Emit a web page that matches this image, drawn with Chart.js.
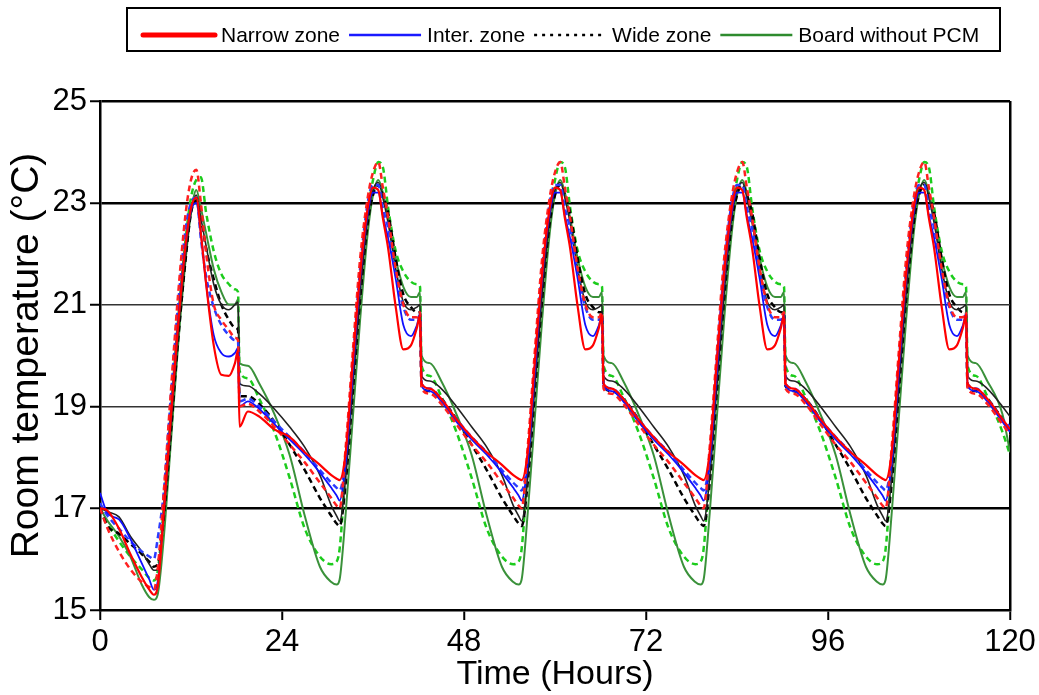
<!DOCTYPE html>
<html><head><meta charset="utf-8">
<script src="https://cdn.jsdelivr.net/npm/chart.js@4.4.1/dist/chart.umd.min.js"></script>
<style>html,body{margin:0;padding:0;background:#fff}#wrap{width:1039px;height:695px;position:relative}</style>
</head><body><div id="wrap"><canvas id="c"></canvas></div>
<script>
// ---------- data ----------
const hours = [
0, 1, 2.5, 4, 5.5, 6.5, 7.1, 7.6, 8.4, 9.3, 10.3, 11.3, 12, 12.7, 13.3, 14, 15, 16, 17, 17.8, 18.2, 18.4, 19.5, 21, 23,
25, 27, 29, 30.5, 31.2, 31.6, 32.4, 33.3, 34.3, 35.3, 36, 36.7, 37.3, 38, 39, 40, 41, 41.8, 42.2, 42.4, 43.5, 45, 47,
49, 51, 53, 54.5, 55.2, 55.6, 56.4, 57.3, 58.3, 59.3, 60, 60.7, 61.3, 62, 63, 64, 65, 65.8, 66.2, 66.4, 67.5, 69, 71,
73, 75, 77, 78.5, 79.2, 79.6, 80.4, 81.3, 82.3, 83.3, 84, 84.7, 85.3, 86, 87, 88, 89, 89.8, 90.2, 90.4, 91.5, 93, 95,
97, 99, 101, 102.5, 103.2, 103.6, 104.4, 105.3, 106.3, 107.3, 108, 108.7, 109.3, 110, 111, 112, 113, 113.8, 114.2, 114.4, 115.5, 117, 119,
120];

const narrowSolid = [
17.0, 16.95, 16.6, 16.1, 15.65, 15.4, 15.3, 15.45, 16.9, 18.7, 20.6, 22.2, 22.9, 23.1, 22.4, 21.4, 20.2, 19.62, 19.6, 19.85, 20.1, 18.6, 18.9, 18.8, 18.55,
18.4, 18.1, 17.85, 17.65, 17.58, 17.55, 18.1, 19.8, 21.6, 22.9, 23.3, 23.25, 22.7, 22.1, 20.95, 20.12, 20.2, 20.55, 20.8, 19.45, 19.35, 19.15, 18.75,
18.4, 18.1, 17.85, 17.65, 17.58, 17.55, 18.1, 19.8, 21.6, 22.9, 23.3, 23.25, 22.7, 22.1, 20.95, 20.12, 20.2, 20.55, 20.8, 19.45, 19.35, 19.15, 18.75,
18.4, 18.1, 17.85, 17.65, 17.58, 17.55, 18.1, 19.8, 21.6, 22.9, 23.3, 23.25, 22.7, 22.1, 20.95, 20.12, 20.2, 20.55, 20.8, 19.45, 19.35, 19.15, 18.75,
18.4, 18.1, 17.85, 17.65, 17.58, 17.55, 18.1, 19.8, 21.6, 22.9, 23.3, 23.25, 22.7, 22.1, 20.95, 20.12, 20.2, 20.55, 20.8, 19.45, 19.35, 19.15, 18.75,
18.55];

const narrowDashed = [
17.0, 16.6, 16.15, 15.8, 15.55, 15.45, 15.4, 15.8, 17.3, 19.2, 21.2, 22.8, 23.45, 23.65, 23.0, 22.0, 21.0, 20.7, 20.5, 20.35, 20.3, 19.0, 19.05, 18.9, 18.6,
18.25, 17.9, 17.5, 17.2, 17.05, 17.0, 18.2, 20.0, 21.9, 23.1, 23.6, 23.8, 23.3, 22.7, 21.7, 21.0, 20.75, 20.75, 20.85, 19.35, 19.25, 19.05, 18.65,
18.25, 17.9, 17.5, 17.2, 17.05, 17.0, 18.2, 20.0, 21.9, 23.1, 23.6, 23.8, 23.3, 22.7, 21.7, 21.0, 20.75, 20.75, 20.85, 19.35, 19.25, 19.05, 18.65,
18.25, 17.9, 17.5, 17.2, 17.05, 17.0, 18.2, 20.0, 21.9, 23.1, 23.6, 23.8, 23.3, 22.7, 21.7, 21.0, 20.75, 20.75, 20.85, 19.35, 19.25, 19.05, 18.65,
18.25, 17.9, 17.5, 17.2, 17.05, 17.0, 18.2, 20.0, 21.9, 23.1, 23.6, 23.8, 23.3, 22.7, 21.7, 21.0, 20.75, 20.75, 20.85, 19.35, 19.25, 19.05, 18.65,
18.45];

const interSolid = [
17.3, 16.9, 16.78, 16.4, 15.92, 15.6, 15.4, 15.55, 16.95, 18.75, 20.7, 22.2, 22.85, 23.0, 22.4, 21.4, 20.4, 20.05, 19.98, 20.05, 20.15, 19.0, 19.1, 18.95, 18.65,
18.35, 18.05, 17.7, 17.4, 17.25, 17.15, 17.9, 19.6, 21.5, 22.8, 23.2, 23.2, 22.75, 22.3, 21.5, 20.6, 20.38, 20.6, 20.8, 19.4, 19.3, 19.1, 18.7,
18.35, 18.05, 17.7, 17.4, 17.25, 17.15, 17.9, 19.6, 21.5, 22.8, 23.2, 23.2, 22.75, 22.3, 21.5, 20.6, 20.38, 20.6, 20.8, 19.4, 19.3, 19.1, 18.7,
18.35, 18.05, 17.7, 17.4, 17.25, 17.15, 17.9, 19.6, 21.5, 22.8, 23.2, 23.2, 22.75, 22.3, 21.5, 20.6, 20.38, 20.6, 20.8, 19.4, 19.3, 19.1, 18.7,
18.35, 18.05, 17.7, 17.4, 17.25, 17.15, 17.9, 19.6, 21.5, 22.8, 23.2, 23.2, 22.75, 22.3, 21.5, 20.6, 20.38, 20.6, 20.8, 19.4, 19.3, 19.1, 18.7,
18.5];

const interDashed = [
17.1, 16.85, 16.6, 16.35, 16.15, 16.05, 16.0, 16.4, 17.3, 19.1, 21.0, 22.5, 23.0, 23.1, 22.3, 21.55, 20.95, 20.6, 20.4, 20.3, 20.27, 19.1, 19.15, 19.0, 18.7,
18.4, 18.1, 17.75, 17.5, 17.4, 17.35, 18.0, 19.8, 21.7, 23.0, 23.35, 23.35, 22.9, 22.5, 21.6, 20.95, 20.7, 20.7, 20.8, 19.45, 19.35, 19.15, 18.75,
18.4, 18.1, 17.75, 17.5, 17.4, 17.35, 18.0, 19.8, 21.7, 23.0, 23.35, 23.35, 22.9, 22.5, 21.6, 20.95, 20.7, 20.7, 20.8, 19.45, 19.35, 19.15, 18.75,
18.4, 18.1, 17.75, 17.5, 17.4, 17.35, 18.0, 19.8, 21.7, 23.0, 23.35, 23.35, 22.9, 22.5, 21.6, 20.95, 20.7, 20.7, 20.8, 19.45, 19.35, 19.15, 18.75,
18.4, 18.1, 17.75, 17.5, 17.4, 17.35, 18.0, 19.8, 21.7, 23.0, 23.35, 23.35, 22.9, 22.5, 21.6, 20.95, 20.7, 20.7, 20.8, 19.45, 19.35, 19.15, 18.75,
18.6];

const wideSolid = [
17.0, 16.93, 16.83, 16.45, 16.15, 15.9, 15.78, 15.8, 16.8, 18.5, 20.4, 22.0, 22.8, 23.15, 22.7, 22.15, 21.4, 21.0, 20.9, 21.0, 21.05, 19.45, 19.4, 19.25, 18.95,
18.6, 18.2, 17.65, 17.05, 16.85, 16.75, 17.6, 19.3, 21.2, 22.7, 23.25, 23.4, 23.1, 22.6, 21.7, 21.05, 20.9, 20.95, 21.0, 19.6, 19.5, 19.35, 19.0,
18.6, 18.2, 17.65, 17.05, 16.85, 16.75, 17.6, 19.3, 21.2, 22.7, 23.25, 23.4, 23.1, 22.6, 21.7, 21.05, 20.9, 20.95, 21.0, 19.6, 19.5, 19.35, 19.0,
18.6, 18.2, 17.65, 17.05, 16.85, 16.75, 17.6, 19.3, 21.2, 22.7, 23.25, 23.4, 23.1, 22.6, 21.7, 21.05, 20.9, 20.95, 21.0, 19.6, 19.5, 19.35, 19.0,
18.6, 18.2, 17.65, 17.05, 16.85, 16.75, 17.6, 19.3, 21.2, 22.7, 23.25, 23.4, 23.1, 22.6, 21.7, 21.05, 20.9, 20.95, 21.0, 19.6, 19.5, 19.35, 19.0,
18.8];

const wideDashed = [
17.0, 16.65, 16.5, 16.3, 16.1, 15.95, 15.85, 15.9, 16.8, 18.4, 20.3, 21.9, 22.8, 23.05, 22.7, 22.1, 21.5, 21.0, 20.7, 20.55, 20.5, 19.2, 19.2, 19.05, 18.7,
18.25, 17.75, 17.2, 16.85, 16.7, 16.65, 17.5, 19.2, 21.1, 22.6, 23.15, 23.35, 23.15, 22.8, 21.9, 21.2, 20.95, 20.85, 20.85, 19.4, 19.3, 19.15, 18.75,
18.25, 17.75, 17.2, 16.85, 16.7, 16.65, 17.5, 19.2, 21.1, 22.6, 23.15, 23.35, 23.15, 22.8, 21.9, 21.2, 20.95, 20.85, 20.85, 19.4, 19.3, 19.15, 18.75,
18.25, 17.75, 17.2, 16.85, 16.7, 16.65, 17.5, 19.2, 21.1, 22.6, 23.15, 23.35, 23.15, 22.8, 21.9, 21.2, 20.95, 20.85, 20.85, 19.4, 19.3, 19.15, 18.75,
18.25, 17.75, 17.2, 16.85, 16.7, 16.65, 17.5, 19.2, 21.1, 22.6, 23.15, 23.35, 23.15, 22.8, 21.9, 21.2, 20.95, 20.85, 20.85, 19.4, 19.3, 19.15, 18.75,
18.5];

const boardSolid = [
17.0, 16.75, 16.45, 16.05, 15.5, 15.25, 15.2, 15.3, 16.4, 18.2, 20.2, 21.9, 22.8, 23.25, 22.9, 22.4, 21.7, 21.25, 21.0, 21.0, 21.1, 19.85, 19.8, 19.45, 18.85,
18.05, 16.85, 15.85, 15.55, 15.5, 15.6, 16.9, 18.7, 20.7, 22.4, 23.15, 23.45, 23.2, 22.7, 21.9, 21.35, 21.15, 21.15, 21.25, 20.0, 19.85, 19.5, 18.85,
18.05, 16.85, 15.85, 15.55, 15.5, 15.6, 16.9, 18.7, 20.7, 22.4, 23.15, 23.45, 23.2, 22.7, 21.9, 21.35, 21.15, 21.15, 21.25, 20.0, 19.85, 19.5, 18.85,
18.05, 16.85, 15.85, 15.55, 15.5, 15.6, 16.9, 18.7, 20.7, 22.4, 23.15, 23.45, 23.2, 22.7, 21.9, 21.35, 21.15, 21.15, 21.25, 20.0, 19.85, 19.5, 18.85,
18.05, 16.85, 15.85, 15.55, 15.5, 15.6, 16.9, 18.7, 20.7, 22.4, 23.15, 23.45, 23.2, 22.7, 21.9, 21.35, 21.15, 21.15, 21.25, 20.0, 19.85, 19.5, 18.85,
18.1];

const boardDashed = [
17.0, 16.7, 16.35, 16.05, 15.8, 15.63, 15.58, 15.75, 17.0, 18.8, 20.7, 22.3, 23.1, 23.45, 23.5, 22.8, 22.05, 21.6, 21.4, 21.3, 21.25, 19.7, 19.55, 19.15, 18.5,
17.6, 16.6, 16.05, 15.9, 15.95, 16.2, 17.8, 19.5, 21.3, 22.8, 23.45, 23.8, 23.7, 22.9, 22.05, 21.65, 21.45, 21.4, 21.35, 19.8, 19.6, 19.2, 18.5,
17.6, 16.6, 16.05, 15.9, 15.95, 16.2, 17.8, 19.5, 21.3, 22.8, 23.45, 23.8, 23.7, 22.9, 22.05, 21.65, 21.45, 21.4, 21.35, 19.8, 19.6, 19.2, 18.5,
17.6, 16.6, 16.05, 15.9, 15.95, 16.2, 17.8, 19.5, 21.3, 22.8, 23.45, 23.8, 23.7, 22.9, 22.05, 21.65, 21.45, 21.4, 21.35, 19.8, 19.6, 19.2, 18.5,
17.6, 16.6, 16.05, 15.9, 15.95, 16.2, 17.8, 19.5, 21.3, 22.8, 23.45, 23.8, 23.7, 22.9, 22.05, 21.65, 21.45, 21.4, 21.35, 19.8, 19.6, 19.2, 18.5,
18.05];

const xTicks = [0, 24, 48, 72, 96, 120];
const yTicks = [15, 17, 19, 21, 23, 25];

const legendLabels = ['Narrow zone', 'Inter. zone', 'Wide zone', 'Board without PCM'];
const legendColors = ['#ff0000', '#1a1aff', '#000000', '#2e8b2e'];
const legendWidths = [5, 2.5, 2.5, 2.5];
const legendDashes = [[], [], [3, 5], []];

// ---------- chart ----------
const FONT = "'Liberation Sans',Arial,Helvetica,sans-serif";

function pts(arr) { return hours.map((h, i) => ({x: h, y: arr[i]})); }
function ds(label, arr, color, width, dash) {
  return {label, data: pts(arr), borderColor: color, backgroundColor: color,
    borderWidth: width, borderDash: dash, pointRadius: 0, fill: false,
    cubicInterpolationMode: 'monotone'};
}

const boxedLegend = {
  id: 'boxedLegend',
  afterDraw(chart) {
    const ctx = chart.ctx;
    ctx.save();
    ctx.setLineDash([]);
    ctx.lineWidth = 2;
    ctx.strokeStyle = '#000';
    ctx.strokeRect(127, 8, 873, 43);
    ctx.font = '21px ' + FONT;
    ctx.textBaseline = 'middle';
    ctx.fillStyle = '#000';
    let x = 143;
    const y = 35;
    legendLabels.forEach((lab, i) => {
      ctx.beginPath();
      ctx.strokeStyle = legendColors[i];
      ctx.lineWidth = legendWidths[i];
      ctx.lineCap = i === 0 ? 'round' : 'butt';
      ctx.setLineDash(legendDashes[i]);
      ctx.moveTo(x, y);
      ctx.lineTo(x + 72, y);
      ctx.stroke();
      ctx.setLineDash([]);
      ctx.fillText(lab, x + 78, y + 1);
      x += 78 + ctx.measureText(lab).width + 9;
    });
    ctx.restore();
  }
};

new Chart(document.getElementById('c'), {
  type: 'line',
  data: {
    datasets: [
      ds('Narrow zone', narrowSolid, '#ff0000', 2.2, []),
      ds('Narrow zone (dashed)', narrowDashed, '#ff2020', 2.5, [6, 4]),
      ds('Inter. zone', interSolid, '#1010ff', 1.8, []),
      ds('Inter. zone (dashed)', interDashed, '#2a3cff', 2.5, [6, 4]),
      ds('Wide zone (solid)', wideSolid, '#222222', 1.6, []),
      ds('Wide zone', wideDashed, '#000000', 2.5, [6, 4]),
      ds('Board without PCM', boardSolid, '#3a913a', 2, []),
      ds('Board without PCM (dashed)', boardDashed, '#1ccc1c', 2.5, [6, 4])
    ]
  },
  options: {
    responsive: true,
    maintainAspectRatio: false,
    animation: false,
    layout: {padding: {top: 101, right: 29, bottom: 0, left: 0}},
    plugins: {legend: {display: false}, tooltip: {enabled: false}},
    scales: {
      x: {
        type: 'linear', min: 0, max: 120,
        afterBuildTicks: s => { s.ticks = xTicks.map(v => ({value: v})); },
        afterFit: s => { s.height = 85; s.paddingRight = 0; s.paddingLeft = 0; },
        grid: {
          color: c => (c.tick && c.tick.value === 120) ? '#000' : 'rgba(0,0,0,0)',
          lineWidth: 2.5, drawTicks: true, tickLength: 10, tickWidth: 2, tickColor: '#000'
        },
        border: {display: true, color: '#000', width: 2.5},
        ticks: {font: {family: FONT, size: 31, lineHeight: 1}, color: '#000', padding: 7, maxRotation: 0},
        title: {display: true, text: 'Time (Hours)', font: {family: FONT, size: 34, lineHeight: 1}, color: '#000', padding: {top: 0, bottom: 3}}
      },
      y: {
        type: 'linear', min: 15, max: 25,
        afterBuildTicks: s => { s.ticks = yTicks.map(v => ({value: v})); },
        afterFit: s => { s.width = 100; },
        grid: {
          color: c => {
            const v = c.tick ? c.tick.value : null;
            if (v === 15) return 'rgba(0,0,0,0)';
            if (v === 19 || v === 21) return '#333';
            return '#000';
          },
          lineWidth: c => {
            const v = c.tick ? c.tick.value : null;
            return (v === 19 || v === 21) ? 1.5 : 2.5;
          },
          drawTicks: true, tickLength: 10, tickWidth: 2, tickColor: '#000'
        },
        border: {display: true, color: '#000', width: 2.5},
        ticks: {font: {family: FONT, size: 31, lineHeight: 1}, color: '#000', padding: 3},
        title: {display: true, text: 'Room temperature (°C)', font: {family: FONT, size: 39, lineHeight: 1}, color: '#000', padding: {top: 8, bottom: 0}}
      }
    }
  },
  plugins: [boxedLegend]
});
</script></body></html>
